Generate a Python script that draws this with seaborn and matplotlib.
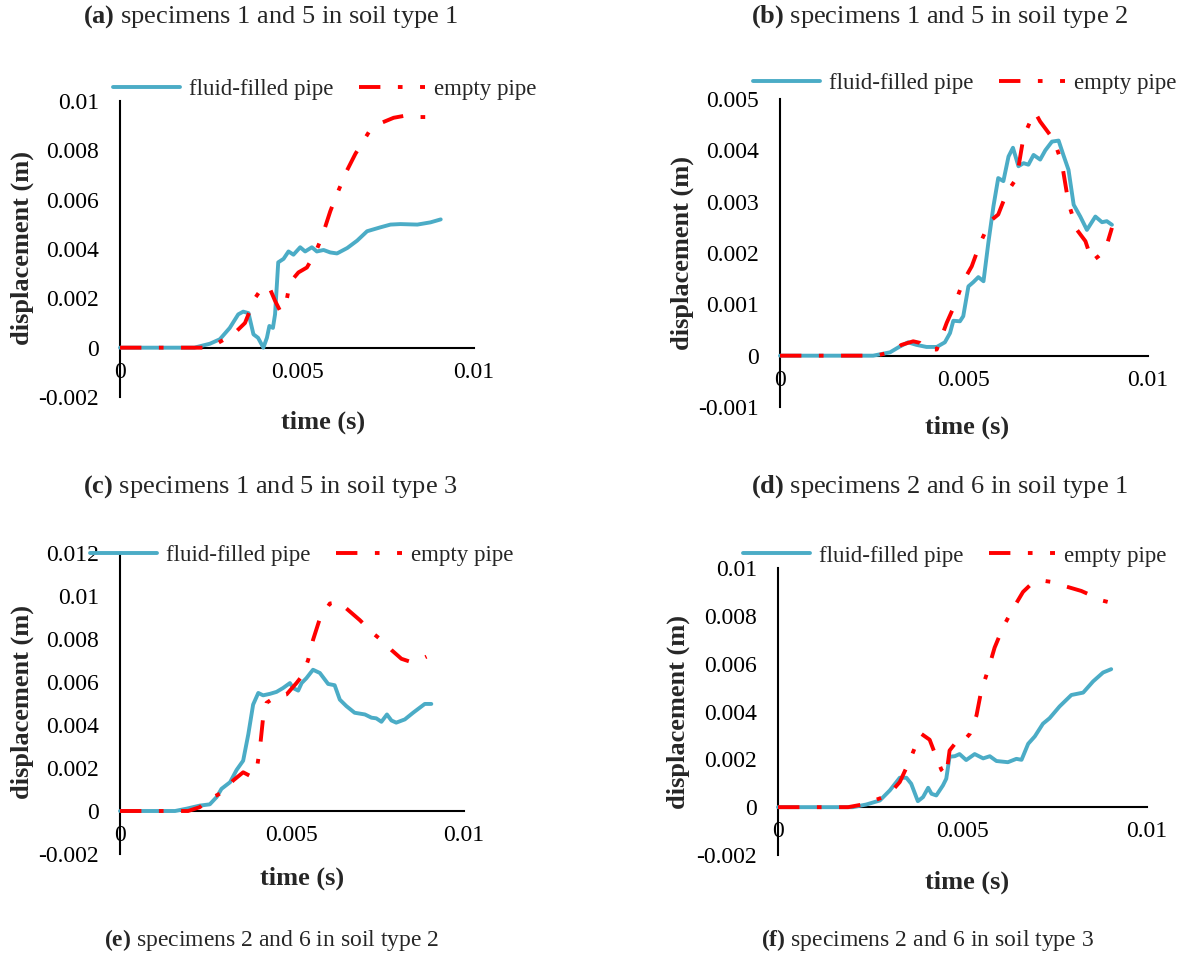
import matplotlib
matplotlib.use("Agg")
import matplotlib.pyplot as plt
import seaborn as sns
import numpy as np

# ---------------- data (time in s, displacement in m) ----------------
a_fluid_t = [0, 0.0021, 0.00254, 0.00282, 0.0031, 0.00334, 0.00348, 0.00363, 0.00377, 0.0039, 0.00405,
             0.00415, 0.00422, 0.00432, 0.00438, 0.00447, 0.00462, 0.00476, 0.0049, 0.00509, 0.00523,
             0.00542, 0.00556, 0.00575, 0.00594, 0.00613, 0.00642, 0.0067, 0.00698, 0.00736, 0.00764,
             0.00792, 0.0084, 0.00877, 0.00906]
a_fluid_d = [0, 0, 0.00016, 0.00034, 0.0008, 0.00135, 0.00146, 0.0014, 0.00054, 0.0004, 0.0,
             0.0004, 0.00088, 0.0008, 0.00135, 0.00346, 0.0036, 0.0039, 0.00377, 0.00407, 0.0039,
             0.00407, 0.0039, 0.00396, 0.00386, 0.00382, 0.00404, 0.00434, 0.00472, 0.00488, 0.00499,
             0.00501, 0.00499, 0.00508, 0.0052]
a_empty_t = [0, 0.00245, 0.00273, 0.0032, 0.00353, 0.00381, 0.00405, 0.00424, 0.00438, 0.00452, 0.00466,
             0.0048, 0.00504, 0.00528, 0.00551, 0.0057, 0.00594, 0.00613, 0.00641, 0.00665, 0.00703,
             0.00736, 0.00773, 0.00811, 0.00849, 0.00896]
a_empty_d = [0, 0, 0.00016, 0.00054, 0.001, 0.002, 0.0025, 0.00237, 0.0019, 0.0015, 0.00156,
             0.00264, 0.00305, 0.00325, 0.00382, 0.00447, 0.00553, 0.00623, 0.00718, 0.00786, 0.00874,
             0.0091, 0.00932, 0.00942, 0.00935, 0.00935]

b_fluid_t = [0, 0.00253, 0.00299, 0.00326, 0.00348, 0.00371, 0.00398, 0.00426, 0.00448, 0.00462, 0.00471,
             0.00489, 0.00498, 0.00512, 0.00525, 0.00539, 0.00553, 0.00566, 0.0058, 0.00593, 0.00607,
             0.00621, 0.00633, 0.00648, 0.00662, 0.00675, 0.00689, 0.00707, 0.00721, 0.00739, 0.00757,
             0.0077, 0.00784, 0.00798, 0.00816, 0.00834, 0.00857, 0.00875, 0.00888, 0.00902]
b_fluid_d = [0, 0, 0.000065, 0.00018, 0.00026, 0.00021, 0.00017, 0.00017, 0.00026, 0.00044, 0.00068,
             0.00067, 0.00077, 0.00135, 0.00143, 0.00153, 0.00145, 0.00219, 0.00291, 0.00346, 0.0034,
             0.00388, 0.00405, 0.00369, 0.00375, 0.00372, 0.00391, 0.00382, 0.004, 0.00417, 0.00419,
             0.00391, 0.00362, 0.00294, 0.00271, 0.00245, 0.00271, 0.0026, 0.00262, 0.00255]
b_empty_t = [0, 0.00262, 0.00299, 0.0033, 0.00362, 0.0038, 0.00398, 0.00426, 0.00453, 0.00471, 0.00498,
             0.00521, 0.00544, 0.00571, 0.00593, 0.00616, 0.00643, 0.00662, 0.0068, 0.00693, 0.00707,
             0.00734, 0.00752, 0.00766, 0.00784, 0.00807, 0.0083, 0.00848, 0.00866, 0.00884, 0.00902]
b_empty_d = [0, 0, 0.000065, 0.00021, 0.00028, 0.00025, 0.00012, 0.00012, 0.00064, 0.00093, 0.00145,
             0.00174, 0.00219, 0.00262, 0.00275, 0.00317, 0.00346, 0.00427, 0.00456, 0.00474, 0.00456,
             0.0043, 0.00404, 0.00375, 0.00297, 0.00245, 0.00223, 0.00184, 0.00194, 0.00206, 0.00249]

c_fluid_t = [0, 0.0016, 0.00194, 0.00232, 0.00261, 0.00281, 0.00295, 0.0032, 0.00339, 0.00358, 0.00373,
             0.00387, 0.00402, 0.00416, 0.00436, 0.00455, 0.00474, 0.00494, 0.00503, 0.00518, 0.00528,
             0.00542, 0.00561, 0.00581, 0.00605, 0.00624, 0.00639, 0.00658, 0.00682, 0.00712, 0.00731,
             0.00745, 0.0076, 0.00776, 0.00789, 0.00803, 0.00828, 0.00852, 0.00871, 0.00886, 0.00905]
c_fluid_d = [0, 0, 0.00011, 0.00025, 0.00031, 0.00065, 0.00103, 0.00134, 0.00191, 0.00234, 0.00357,
             0.00495, 0.00549, 0.00538, 0.00545, 0.00554, 0.00572, 0.00595, 0.00572, 0.0056, 0.00595,
             0.00618, 0.00657, 0.00642, 0.00591, 0.00585, 0.00518, 0.00488, 0.00457, 0.00449, 0.00434,
             0.00431, 0.00415, 0.00449, 0.00421, 0.00411, 0.00426, 0.00457, 0.0048, 0.00498, 0.00498]
c_empty_t = [0, 0.00198, 0.00232, 0.00261, 0.003, 0.00329, 0.00358, 0.00382, 0.00397, 0.00407, 0.00416,
             0.00426, 0.00455, 0.00484, 0.00513, 0.00532, 0.00547, 0.00561, 0.00581, 0.0061, 0.00639,
             0.00658, 0.00697, 0.00736, 0.00765, 0.00789, 0.00818, 0.00848, 0.00871, 0.00891]
c_empty_d = [0, 0, 0.00018, 0.00057, 0.00088, 0.00142, 0.0018, 0.0016, 0.00188, 0.00295, 0.00434,
             0.00503, 0.00534, 0.00542, 0.00595, 0.00634, 0.00703, 0.00795, 0.00895, 0.00965, 0.00972,
             0.00942, 0.00888, 0.00826, 0.00788, 0.00749, 0.00708, 0.00692, 0.00703, 0.00718]

d_fluid_t = [0, 0.00203, 0.00239, 0.00276, 0.00303, 0.0033, 0.00348, 0.00361, 0.00379, 0.00393, 0.00407,
             0.00416, 0.00429, 0.00447, 0.00456, 0.00465, 0.00479, 0.00492, 0.0051, 0.00533, 0.00556,
             0.00574, 0.00592, 0.00623, 0.00646, 0.0066, 0.00678, 0.00696, 0.00718, 0.00736, 0.00763,
             0.00795, 0.00827, 0.00854, 0.00881, 0.00903]
d_fluid_d = [0, 0, 0.00011, 0.00028, 0.0007, 0.00123, 0.00123, 0.00098, 0.00025, 0.00042, 0.00081,
             0.00056, 0.00049, 0.00091, 0.00119, 0.00211, 0.00213, 0.00222, 0.00197, 0.00222, 0.00204,
             0.00213, 0.00193, 0.00188, 0.00202, 0.00198, 0.00265, 0.00296, 0.00349, 0.00372, 0.00421,
             0.00469, 0.00479, 0.00526, 0.00563, 0.00577]
d_empty_t = [0, 0.0019, 0.00239, 0.00266, 0.00298, 0.0033, 0.00357, 0.00375, 0.00388, 0.00411, 0.00429,
             0.00443, 0.00456, 0.00465, 0.00483, 0.00497, 0.0052, 0.00538, 0.00551, 0.00569, 0.00587,
             0.0061, 0.00637, 0.00664, 0.00687, 0.00713, 0.00745, 0.0078, 0.00822, 0.00854, 0.00876, 0.00894]
d_empty_d = [0, 0, 0.00014, 0.00031, 0.00049, 0.00105, 0.00195, 0.00265, 0.00307, 0.00282, 0.00209,
             0.00156, 0.00132, 0.00237, 0.00272, 0.00265, 0.00307, 0.00384, 0.00488, 0.00572, 0.00667,
             0.00753, 0.0083, 0.009, 0.00934, 0.00948, 0.00941, 0.00923, 0.00904, 0.00882, 0.00865, 0.00858]

x_ticks = [0, 0.005, 0.01]
x_tick_labels = ["0", "0.005", "0.01"]
a_y_ticks = [-0.002, 0, 0.002, 0.004, 0.006, 0.008, 0.01]
a_y_labels = ["-0.002", "0", "0.002", "0.004", "0.006", "0.008", "0.01"]
b_y_ticks = [-0.001, 0, 0.001, 0.002, 0.003, 0.004, 0.005]
b_y_labels = ["-0.001", "0", "0.001", "0.002", "0.003", "0.004", "0.005"]
c_y_ticks = [-0.002, 0, 0.002, 0.004, 0.006, 0.008, 0.01, 0.012]
c_y_labels = ["-0.002", "0", "0.002", "0.004", "0.006", "0.008", "0.01", "0.012"]
d_y_ticks = a_y_ticks
d_y_labels = a_y_labels

series_names = ["fluid-filled pipe", "empty pipe"]
titles = ["(a)", "(b)", "(c)", "(d)", "(e)", "(f)"]
title_texts = ["specimens 1 and 5 in soil type 1", "specimens 1 and 5 in soil type 2",
               "specimens 1 and 5 in soil type 3", "specimens 2 and 6 in soil type 1",
               "specimens 2 and 6 in soil type 2", "specimens 2 and 6 in soil type 3"]
x_label = "time (s)"
y_label = "displacement (m)"

# ---------------- style ----------------
sns.set_style("white")
plt.rcParams["font.family"] = ["Liberation Serif", "DejaVu Serif"]
plt.rcParams["mathtext.fontset"] = "custom"
plt.rcParams["mathtext.rm"] = "Liberation Serif"
plt.rcParams["mathtext.bf"] = "Liberation Serif:bold"

BLUE = "#4BACC6"
RED = "#FF0000"
W, H = 1204, 958
TICK_FS = 17
LEG_FS = 16.5
LAB_FS = 19

fig = plt.figure(figsize=(W / 100, H / 100), dpi=100)
fig.patch.set_facecolor("white")

panels = [
    dict(t1=a_fluid_t, d1=a_fluid_d, t2=a_empty_t, d2=a_empty_d, yt=a_y_ticks, yl=a_y_labels,
         px=(120, 474, 101, 397), leg=(325, 89), ylab=(22, 248), xlab=(323, 422)),
    dict(t1=b_fluid_t, d1=b_fluid_d, t2=b_empty_t, d2=b_empty_d, yt=b_y_ticks, yl=b_y_labels,
         px=(780, 1148, 99, 407), leg=(965, 83), ylab=(682, 253), xlab=(967, 427)),
    dict(t1=c_fluid_t, d1=c_fluid_d, t2=c_empty_t, d2=c_empty_d, yt=c_y_ticks, yl=c_y_labels,
         px=(120, 464, 553, 854), leg=(302, 555), ylab=(22, 702), xlab=(302, 878)),
    dict(t1=d_fluid_t, d1=d_fluid_d, t2=d_empty_t, d2=d_empty_d, yt=d_y_ticks, yl=d_y_labels,
         px=(778, 1147, 568, 855), leg=(955, 556), ylab=(678, 712), xlab=(967, 882)),
]

for p in panels:
    x0, x1, yt_px, yb_px = p["px"]
    ax = fig.add_axes([x0 / W, 1 - yb_px / H, (x1 - x0) / W, (yb_px - yt_px) / H])
    ax.set_facecolor("none")
    sns.lineplot(x=p["t1"], y=p["d1"], ax=ax, color=BLUE, lw=2.8, label=series_names[0],
                 sort=False, estimator=None, clip_on=False, zorder=3)
    sns.lineplot(x=p["t2"], y=p["d2"], ax=ax, color=RED, lw=2.8, label=series_names[1],
                 sort=False, estimator=None, clip_on=False, zorder=4,
                 linestyle=(0, (5.5, 4.5, 1.2, 4.5)))
    ax.set_xlim(0, 0.01)
    ax.set_ylim(p["yt"][0], p["yt"][-1])
    ax.set_xticks(x_ticks)
    ax.set_xticklabels(x_tick_labels)
    ax.set_yticks(p["yt"])
    ax.set_yticklabels(p["yl"])
    ax.tick_params(axis="both", length=0, labelsize=TICK_FS, colors="black")
    ax.tick_params(axis="y", pad=15)
    ax.tick_params(axis="x", pad=10)
    for s in ["top", "right"]:
        ax.spines[s].set_visible(False)
    ax.spines["left"].set_position(("data", 0))
    ax.spines["bottom"].set_position(("data", 0))
    for s in ["left", "bottom"]:
        ax.spines[s].set_color("black")
        ax.spines[s].set_linewidth(1.5)
        ax.spines[s].set_zorder(2)
    ax.grid(False)
    ax.set_ylabel(y_label, fontsize=LAB_FS, fontweight="bold")
    ax.set_xlabel(x_label, fontsize=LAB_FS, fontweight="bold")
    ax.yaxis.set_label_coords(p["ylab"][0] / W, 1 - p["ylab"][1] / H, transform=fig.transFigure)
    ax.xaxis.set_label_coords(p["xlab"][0] / W, 1 - p["xlab"][1] / H, transform=fig.transFigure)
    ax.xaxis.label.set_va("center")
    ax.yaxis.label.set_va("center")
    leg = ax.legend(loc="center", ncol=2, frameon=False, fontsize=LEG_FS,
                    bbox_to_anchor=(p["leg"][0] / W, 1 - p["leg"][1] / H),
                    bbox_transform=fig.transFigure, handlelength=2.9, handletextpad=0.4,
                    columnspacing=1.1, borderpad=0, borderaxespad=0)

title_pos = [(83, 17, 19), (751, 17, 19), (83, 487, 19), (751, 487, 19), (104, 940, 17), (761, 940, 17)]
for lab, txt, (x, y, fs) in zip(titles, title_texts, title_pos):
    fig.text(x / W, 1 - y / H, r"$\mathbf{" + lab + "}$ " + txt, ha="left", va="center", fontsize=fs)

fig.savefig("out.png", dpi=100, facecolor="white")
